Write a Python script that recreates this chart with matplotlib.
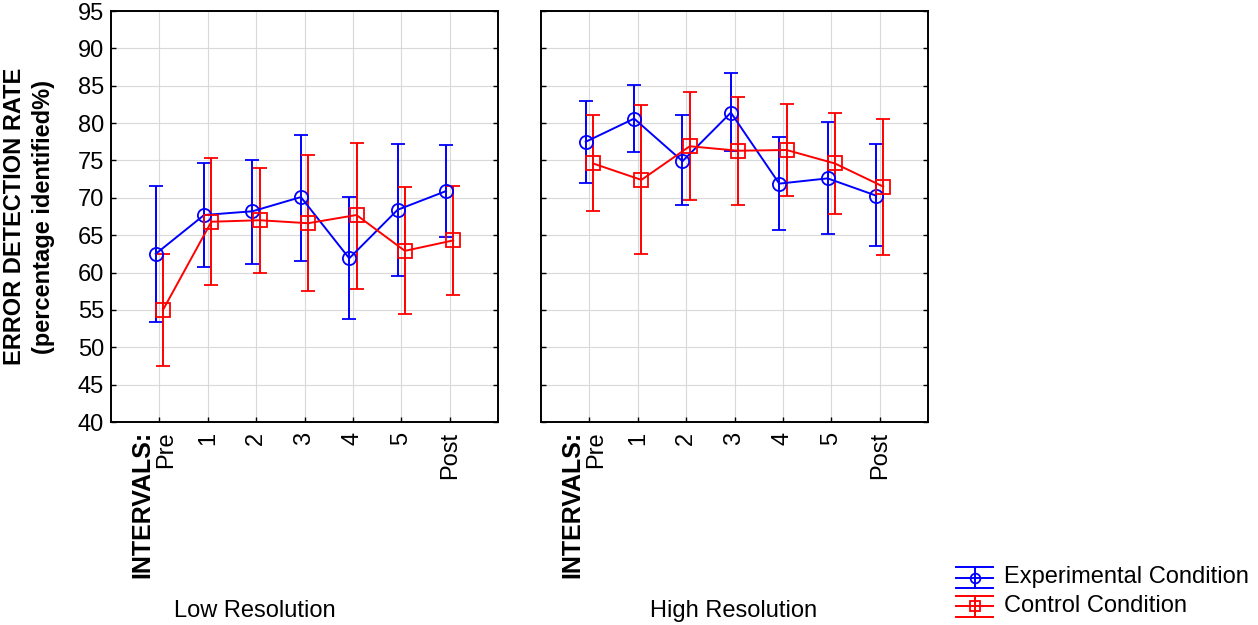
import matplotlib
matplotlib.use('Agg')
import matplotlib.pyplot as plt
import matplotlib.transforms as mtransforms
from matplotlib.lines import Line2D
import numpy as np

plt.rcParams['font.family'] = ['Liberation Sans', 'DejaVu Sans']

# ---------------- data ----------------
intervals = ['Pre', '1', '2', '3', '4', '5', 'Post']
panel_titles = ['Low Resolution', 'High Resolution']
series_names = ['Experimental Condition', 'Control Condition']

low_exp_mean = [62.5, 67.7, 68.2, 70.1, 61.9, 68.4, 70.9]
low_exp_upper = [71.6, 74.6, 75.1, 78.4, 70.1, 77.2, 77.1]
low_exp_lower = [53.4, 60.8, 61.2, 61.6, 53.8, 59.6, 64.7]

low_ctl_mean = [55.0, 66.8, 67.0, 66.6, 67.7, 62.9, 64.3]
low_ctl_upper = [62.5, 75.3, 74.0, 75.7, 77.4, 71.4, 71.6]
low_ctl_lower = [47.5, 58.3, 60.0, 57.5, 57.8, 54.5, 57.0]

high_exp_mean = [77.5, 80.6, 74.9, 81.4, 71.9, 72.6, 70.3]
high_exp_upper = [82.9, 85.1, 81.1, 86.7, 78.1, 80.2, 77.2]
high_exp_lower = [72.0, 76.1, 69.0, 76.2, 65.7, 65.1, 63.5]

high_ctl_mean = [74.6, 72.4, 76.9, 76.3, 76.4, 74.6, 71.5]
high_ctl_upper = [81.1, 82.4, 84.1, 83.5, 82.6, 81.3, 80.6]
high_ctl_lower = [68.2, 62.5, 69.7, 69.0, 70.3, 67.9, 62.4]

# ---------------- figure ----------------
W, H = 1258, 625
fig = plt.figure(figsize=(W / 100, H / 100), dpi=100)

def fx(px):
    return px / W

def fy(py):
    return 1 - py / H

FS = 17
blue = '#0000ff'
red = '#ff0000'

ax_l = fig.add_axes([fx(111), fy(422), fx(387), 411 / H])
ax_r = fig.add_axes([fx(541), fy(422), fx(387), 411 / H])

panels = [
    (ax_l, (low_exp_mean, low_exp_lower, low_exp_upper), (low_ctl_mean, low_ctl_lower, low_ctl_upper)),
    (ax_r, (high_exp_mean, high_exp_lower, high_exp_upper), (high_ctl_mean, high_ctl_lower, high_ctl_upper)),
]

x = np.arange(len(intervals))
off = 0.075
for ax, exp, ctl in panels:
    for (mean, lo, hi), color, marker, dx in [(exp, blue, 'o', -off), (ctl, red, 's', off)]:
        mean = np.array(mean); lo = np.array(lo); hi = np.array(hi)
        ax.errorbar(x + dx, mean, yerr=[mean - lo, hi - mean], color=color, lw=1.4,
                    elinewidth=1.4, capsize=5, capthick=1.4, marker=marker, ms=9.5,
                    mfc='none', mec=color, mew=1.3, zorder=3)
    ax.set_xlim(-1, 7)
    ax.set_ylim(40, 95)
    ax.set_yticks(np.arange(40, 96, 5))
    ax.set_xticks(x)
    ax.set_xticklabels(intervals, rotation=90, fontsize=FS)
    ax.grid(True, color='#d9d9d9', lw=0.8, zorder=0)
    ax.set_axisbelow(True)
    ax.tick_params(axis='both', direction='in', length=3.5, width=1.0, labelsize=FS)
    ax.tick_params(axis='y', right=True, pad=5)
    ax.tick_params(axis='x', pad=7)
    for s in ax.spines.values():
        s.set_linewidth(1.4)
        s.set_color('black')
    # shift the "Pre" label slightly to the right (second line of a two-line label)
    lab0 = ax.get_xticklabels()[0]
    lab0.set_transform(lab0.get_transform() + mtransforms.ScaledTranslation(7 / 100, 0, fig.dpi_scale_trans))
    ax.annotate('INTERVALS:', xy=(0, 0), xycoords=('data', 'axes fraction'),
                xytext=(-17, -9), textcoords='offset pixels', rotation=90,
                ha='center', va='top', fontsize=18, fontweight='bold')

ax_r.tick_params(axis='y', labelleft=False)

ax_l.set_ylabel('ERROR DETECTION RATE\n(percentage identified%)', fontsize=FS,
                fontweight='bold', labelpad=16, linespacing=1.35)

fig.text(fx(255), fy(611), panel_titles[0], ha='center', va='center', fontsize=FS)
fig.text(fx(734), fy(611), panel_titles[1], ha='center', va='center', fontsize=FS)

# ---------------- legend ----------------
leg_rows = [(blue, 'o', 577.5, series_names[0]), (red, 's', 606, series_names[1])]
for color, marker, yc, name in leg_rows:
    for dy in (-10.5, 0, 10.5):
        fig.add_artist(Line2D([fx(956), fx(993)], [fy(yc + dy), fy(yc + dy)],
                              transform=fig.transFigure, color=color, lw=1.4))
    fig.add_artist(Line2D([fx(974.5), fx(974.5)], [fy(yc - 10.5), fy(yc + 10.5)],
                          transform=fig.transFigure, color=color, lw=1.4))
    fig.add_artist(Line2D([fx(974.5)], [fy(yc)], transform=fig.transFigure,
                          marker=marker, ms=7, mfc='none', mec=color, mew=1.3, color=color))
    fig.text(fx(1004), fy(yc), name, ha='left', va='center', fontsize=FS)

fig.savefig('out.png', dpi=100)
